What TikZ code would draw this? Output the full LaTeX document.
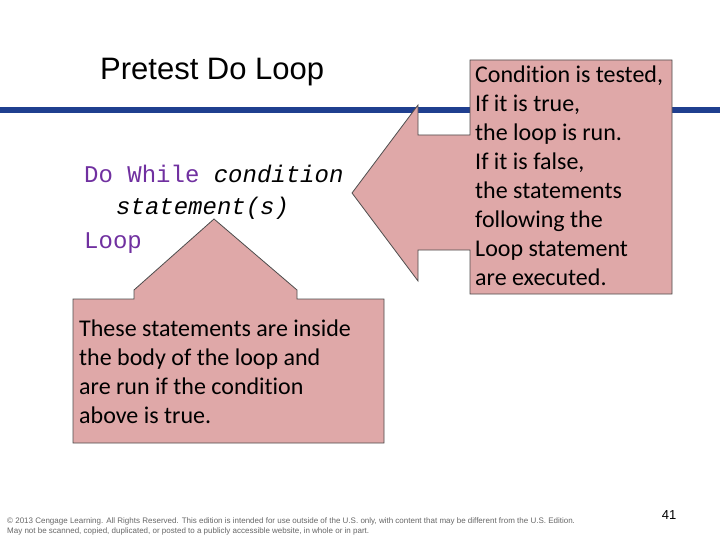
\documentclass[tikz,border=0pt]{standalone}
\usepackage{fontspec}
\setmainfont{Liberation Sans}
\newfontfamily\calfnt[Ligatures=NoCommon]{Carlito}
\newfontfamily\monofnt{Liberation Mono}
\definecolor{boxfill}{HTML}{DFA8A8}
\definecolor{bluebar}{HTML}{1F3F8F}
\definecolor{kw}{HTML}{7030A0}
\tikzset{callout/.style={fill=boxfill,draw=black!70,line width=0.8pt},
 btext/.style={anchor=north west,align=left,inner sep=0pt,font=\calfnt\fontsize{24}{29}\selectfont},
 code/.style={anchor=west,inner sep=0pt,font=\monofnt\fontsize{24}{28}\selectfont}}
\begin{document}
\begin{tikzpicture}[x=1pt,y=-1pt]
\useasboundingbox (0,0) rectangle (720,540);
\fill[bluebar] (0,107) rectangle (720,113);
\node[anchor=west,inner sep=0pt,font=\fontsize{31}{34}\selectfont] (title) at (100,72) {Pretest Do Loop};
\node[code] (l1) at (84,174) {\textcolor{kw}{Do While} \textit{condition}};
\node[code] (l2) at (116,208) {\textit{statement(s)}};
\node[code] (l3) at (84,243) {\textcolor{kw}{Loop}};
\draw[callout] (470,60) -- (672,60) -- (672,294) -- (470,294) -- (470,250) -- (418,250) -- (418,281) -- (352,193) -- (418,105) -- (418,135) -- (470,135) -- cycle;
\node[btext] (rt) at (475,66) {Condition is tested,\\If it is true,\\the loop is run.\\If it is false,\\the statements\\following the\\Loop statement\\are executed.};
\draw[callout] (73,299) -- (134,299) -- (134,290) -- (214,219) -- (297,290) -- (297,299) -- (384,299) -- (384,443) -- (73,443) -- cycle;
\node[btext] (bt) at (79,320) {These statements are inside\\the body of the loop and\\are run if the condition\\above is true.};
\node[anchor=west,inner sep=0pt,font=\fontsize{8}{10}\selectfont,text=black!60,align=left] (foot) at (7,526) {\copyright{} 2013 Cengage Learning. All Rights Reserved. This edition is intended for use outside of the U.S. only, with content that may be different from the U.S. Edition.\\May not be scanned, copied, duplicated, or posted to a publicly accessible website, in whole or in part.};
\node[inner sep=0pt,font=\fontsize{13}{15}\selectfont] (pg) at (669,515) {41};
\end{tikzpicture}
\end{document}
